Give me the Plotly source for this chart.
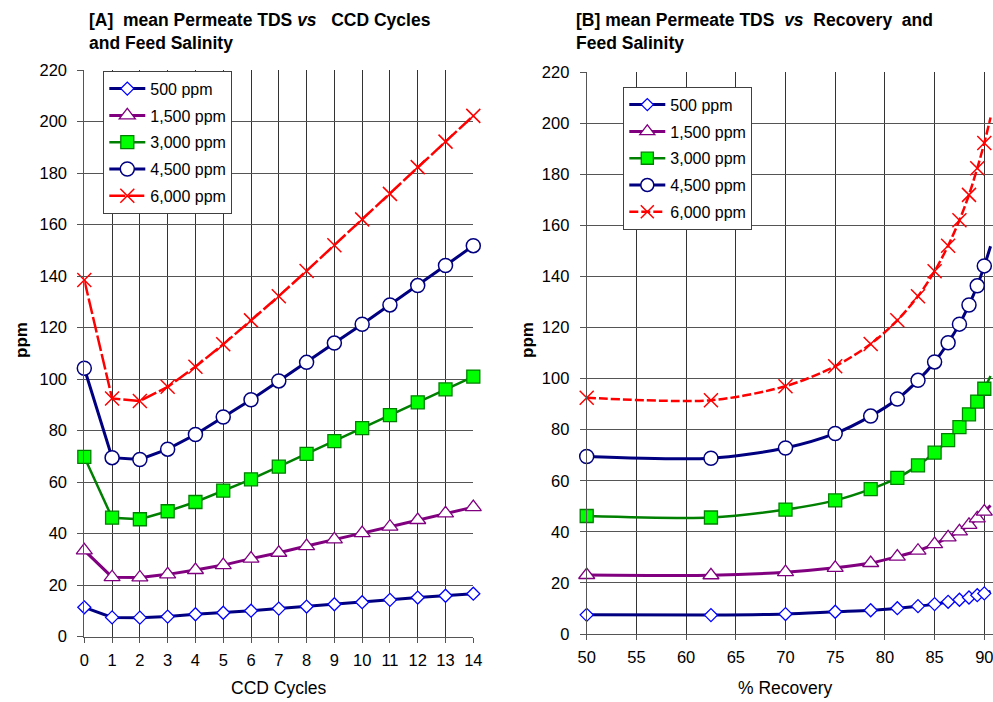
import plotly.graph_objects as go

# ---------------- data ----------------
cycles = [0, 1, 2, 3, 4, 5, 6, 7, 8, 9, 10, 11, 12, 13, 14]
recovery = [50.0, 62.5, 70.0, 75.0, 78.57, 81.25, 83.33, 85.0, 86.36, 87.5, 88.46, 89.29, 90.0, 90.63]

series_names = ["500 ppm", "1,500 ppm", "3,000 ppm", "4,500 ppm", "6,000 ppm"]
tds_500 = [11.4, 7.5, 7.4, 7.8, 8.7, 9.3, 10.1, 10.9, 11.7, 12.6, 13.4, 14.3, 15.2, 15.9, 16.7]
tds_1500 = [33.5, 23.1, 23.0, 24.2, 25.9, 27.8, 30.3, 32.6, 35.2, 37.8, 40.2, 42.7, 45.3, 47.9, 50.3]
tds_3000 = [69.8, 46.2, 45.6, 48.7, 52.3, 56.7, 61.1, 66.0, 71.0, 75.9, 81.0, 86.0, 91.0, 96.0, 101.0]
tds_4500 = [104.2, 69.5, 68.8, 72.8, 78.5, 85.3, 92.0, 99.3, 106.5, 114.0, 121.3, 128.8, 136.3, 144.1, 151.8]
tds_6000 = [138.5, 92.5, 91.5, 97.0, 104.8, 113.5, 122.8, 132.2, 142.0, 152.0, 162.0, 171.9, 182.3, 192.2, 202.2]

y_ticks = [0, 20, 40, 60, 80, 100, 120, 140, 160, 180, 200, 220]

# ---------------- styles ----------------
FONT = "Liberation Sans, Arial, sans-serif"
W, H = 993, 702
styles = [
    dict(line=dict(color="#000080", width=3),
         marker=dict(symbol="diamond", size=10, color="white", opacity=1, line=dict(color="#0000FF", width=1.3))),
    dict(line=dict(color="#800080", width=3),
         marker=dict(symbol="triangle-up", size=14, color="white", opacity=1, line=dict(color="#800080", width=1.3))),
    dict(line=dict(color="#008000", width=2.5),
         marker=dict(symbol="square", size=13, color="#00FF00", opacity=1, line=dict(color="#008000", width=1.3))),
    dict(line=dict(color="#000080", width=3),
         marker=dict(symbol="circle", size=14, color="white", opacity=1, line=dict(color="#000080", width=1.5))),
    dict(line=dict(color="#FF0000", width=2.5),
         marker=dict(symbol="x-thin-open", size=14, color="#FF0000", opacity=1, line=dict(color="#FF0000", width=1.5))),
]
all_series = [tds_500, tds_1500, tds_3000, tds_4500, tds_6000]

fig = go.Figure()

# Left panel
for i, (name, ys, st) in enumerate(zip(series_names, all_series, styles)):
    line = dict(st["line"])
    if i == 4:
        line["dash"] = "16px,3px"
    fig.add_trace(go.Scatter(
        x=cycles, y=ys, name=name, mode="lines+markers",
        line=line, marker=st["marker"], cliponaxis=False,
        xaxis="x", yaxis="y", legend="legend", legendgroup="L%d" % i,
    ))

# Right panel
for i, (name, ys, st) in enumerate(zip(series_names, all_series, styles)):
    line = dict(st["line"])
    line["shape"] = "spline"
    line["smoothing"] = 0.8
    if i == 4:
        line["dash"] = "9px,3px"
    mk = dict(st["marker"])
    yy = ys[1:]
    mk["size"] = [st["marker"]["size"]] * (len(yy) - 1) + [0]
    mk["opacity"] = 1
    fig.add_trace(go.Scatter(
        x=recovery, y=yy, name=name, mode="lines+markers",
        line=line, marker=mk, cliponaxis=False,
        xaxis="x2", yaxis="y2", legend="legend2", legendgroup="R%d" % i,
    ))

GRIDX = "#333333"
GRIDY = "#555555"
tickfont = dict(family=FONT, size=16.5, color="black")

def px_x(p):
    return p / W

def px_y(p):
    return 1 - p / H

common_y = dict(range=[0, 220], tickvals=y_ticks, showgrid=True, gridcolor=GRIDY, gridwidth=1,
                showline=True, linecolor=GRIDY, linewidth=1, ticks="outside", ticklen=6,
                tickcolor=GRIDY, zeroline=False, tickfont=tickfont, ticklabelstandoff=7,
                automargin=False)
common_x = dict(showgrid=True, gridcolor=GRIDX, gridwidth=1, showline=True, linecolor=GRIDY,
                ticks="outside", ticklen=5, tickcolor=GRIDY, zeroline=False, tickfont=tickfont,
                ticklabelstandoff=3, automargin=False, ticklabeloverflow="allow")

legend_common = dict(xanchor="left", yanchor="top", bgcolor="white", bordercolor="#404040",
                     borderwidth=1, font=dict(family=FONT, size=16, color="black"),
                     tracegroupgap=3, traceorder="grouped", itemwidth=36)

fig.update_layout(
    width=W, height=H,
    margin=dict(l=0, r=0, t=0, b=0, autoexpand=False),
    paper_bgcolor="white", plot_bgcolor="white",
    font=dict(family=FONT, color="black"),
    xaxis=dict(domain=[px_x(84.3), px_x(473.3)], range=[0, 14], dtick=1, tick0=0, anchor="y", **common_x),
    yaxis=dict(domain=[px_y(636.7), px_y(70)], anchor="x", **common_y),
    xaxis2=dict(domain=[px_x(586.7), 1.0], range=[50, 90.875], dtick=5, tick0=50, anchor="y2", **common_x),
    yaxis2=dict(domain=[px_y(634), px_y(72)], anchor="x2", **common_y),
    legend=dict(x=px_x(103.3), y=px_y(70.7), **legend_common),
    legend2=dict(x=px_x(623.3), y=px_y(86.7), **legend_common),
    showlegend=True,
)

NB = "\u00a0"
title_font = dict(family=FONT, size=17.5, color="black")
annotations = [
    dict(text="<b>[A]" + NB * 2 + "mean Permeate TDS <i>vs</i>" + NB * 3 + "CCD Cycles<br>and Feed Salinity</b>",
         x=px_x(87), y=px_y(8), xref="paper", yref="paper", xanchor="left", yanchor="top",
         align="left", showarrow=False, font=title_font),
    dict(text="<b>[B] mean Permeate TDS" + NB * 2 + "<i>vs</i>" + NB * 2 + "Recovery" + NB * 2 + "and<br>Feed Salinity</b>",
         x=px_x(574), y=px_y(8), xref="paper", yref="paper", xanchor="left", yanchor="top",
         align="left", showarrow=False, font=title_font),
    dict(text="CCD Cycles", x=px_x(279), y=px_y(688), xref="paper", yref="paper",
         xanchor="center", yanchor="middle", showarrow=False,
         font=dict(family=FONT, size=17.5, color="black")),
    dict(text="% Recovery", x=px_x(785), y=px_y(688), xref="paper", yref="paper",
         xanchor="center", yanchor="middle", showarrow=False,
         font=dict(family=FONT, size=17.5, color="black")),
    dict(text="<b>ppm</b>", x=px_x(21), y=px_y(340), xref="paper", yref="paper",
         xanchor="center", yanchor="middle", showarrow=False, textangle=-90,
         font=dict(family=FONT, size=17, color="black")),
    dict(text="<b>ppm</b>", x=px_x(527), y=px_y(340), xref="paper", yref="paper",
         xanchor="center", yanchor="middle", showarrow=False, textangle=-90,
         font=dict(family=FONT, size=17, color="black")),
]
fig.update_layout(annotations=annotations)

fig.write_html("out.html")
